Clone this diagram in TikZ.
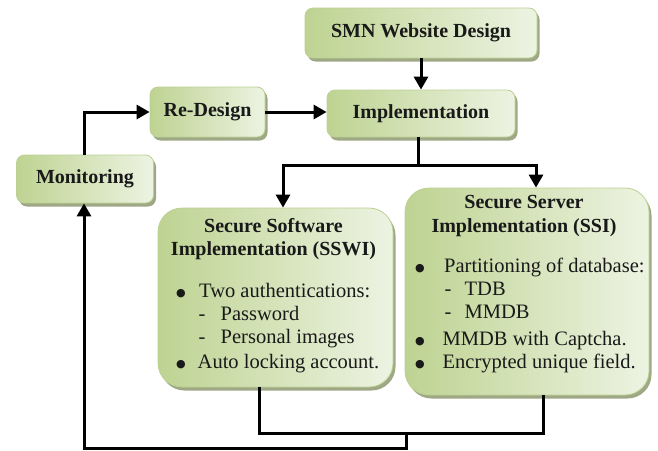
\documentclass[tikz,border=0pt]{standalone}
\usepackage{fontspec}
\setmainfont{Liberation Serif}
\newfontfamily\symf{DejaVu Sans}
\usetikzlibrary{shadows,arrows.meta}
\definecolor{gdark}{RGB}{190,211,146}
\definecolor{glight}{RGB}{237,243,226}
\definecolor{gborder}{RGB}{188,208,148}
\definecolor{gshadow}{RGB}{158,168,132}
\definecolor{txt}{RGB}{25,25,25}
\newcommand\bul{\raisebox{1pt}{\symf\fontsize{11pt}{11pt}\selectfont ●}}
\tikzset{
  box/.style={draw=gborder, line width=0.8pt, left color=gdark, right color=glight,
    drop shadow={shadow xshift=2.5pt, shadow yshift=-3.5pt, fill=gshadow, opacity=1},
    inner sep=0pt, text=txt, font=\fontsize{20pt}{24pt}\selectfont\bfseries},
  smallbox/.style={box, rounded corners=8pt},
  bigbox/.style={box, rounded corners=24pt},
  conn/.style={line width=3pt, draw=black},
  arr/.style={conn, -{Triangle[length=13pt,width=14pt]}},
  lbl/.style={inner sep=0pt, text=txt, font=\fontsize{20.5pt}{23pt}\selectfont},
  ttl/.style={inner sep=0pt, text=txt, anchor=base},
}
\begin{document}
\begin{tikzpicture}[x=1pt,y=-1pt]
\useasboundingbox (0,0) rectangle (658,450);

% boxes
\node[smallbox, minimum width=232pt, minimum height=50pt] (smn) at (421,33) {SMN Website Design};
\node[smallbox, minimum width=188pt, minimum height=47pt] (impl) at (421,113.5) {Implementation};
\node[smallbox, minimum width=115pt, minimum height=50pt] (redesign) at (207.5,112) {Re-Design};
\node[smallbox, minimum width=137pt, minimum height=48pt] (monitor) at (85,179) {Monitoring};
\node[bigbox, minimum width=235pt, minimum height=179pt] (sswi) at (275.5,297.5) {};
\node[bigbox, minimum width=244pt, minimum height=207pt] (ssi) at (527,291.5) {};

% SSWI text
\node[ttl, font=\fontsize{20pt}{23pt}\selectfont\bfseries] (sswititle) at (273.5,232)
  {\begin{tabular}[t]{@{}c@{}}Secure Software\\Implementation (SSWI)\end{tabular}};
\node[lbl, anchor=base west] (sswilist) at (176,297)
  {\begin{tabular}[t]{@{}l@{}}
   \makebox[23pt][l]{\bul}Two authentications:\\
   \hspace*{22.5pt}\makebox[22pt][l]{-}Password\\
   \hspace*{22.5pt}\makebox[22pt][l]{-}Personal images\\[2pt]
   \makebox[21.5pt][l]{\bul}Auto locking account.
   \end{tabular}};

% SSI text
\node[ttl, font=\fontsize{20pt}{24pt}\selectfont\bfseries] (ssititle) at (524,208)
  {\begin{tabular}[t]{@{}c@{}}Secure Server\\Implementation (SSI)\end{tabular}};
\node[lbl, anchor=base west] (ssilist) at (415,272)
  {\begin{tabular}[t]{@{}l@{}}
   \makebox[29pt][l]{\bul}Partitioning of database:\\
   \hspace*{29.5pt}\makebox[20pt][l]{-}TDB\\
   \hspace*{29.5pt}\makebox[20pt][l]{-}MMDB\\[4pt]
   \makebox[27.5pt][l]{\bul}MMDB with Captcha.\\
   \makebox[27.5pt][l]{\bul}Encrypted unique field.
   \end{tabular}};

% connectors
\coordinate (j) at (418,165);
\coordinate (jl) at (283,165);
\coordinate (jr) at (536,165);
\coordinate (b1) at (259,433);
\coordinate (b2) at (543,433);
\coordinate (b3) at (406,433);
\coordinate (b5) at (84,448);

\draw[arr] (smn.south) -- (impl.north);
\draw[arr] (redesign.east) -- (redesign.east -| impl.west);
\draw[arr] (monitor.north -| b5) |- (redesign.west);
\draw[conn] (impl.south -| j) -- (j);
\draw[arr] (j) -| (sswi.north -| jl);
\draw[arr] (j) -| (ssi.north -| jr);
\draw[conn] (sswi.south -| b1) |- (b2) -- (ssi.south -| b2);
\draw[arr] (b3) |- (b5) -- (monitor.south -| b5);
\end{tikzpicture}
\end{document}
